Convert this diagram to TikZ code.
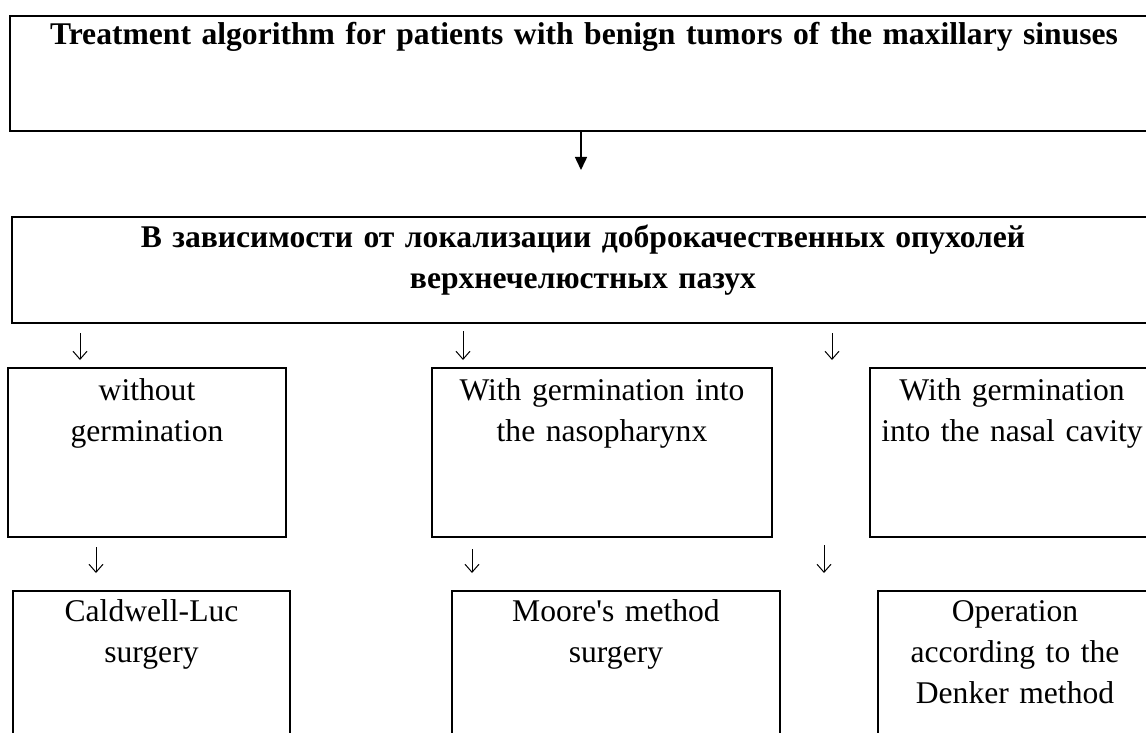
\documentclass[tikz,border=0pt]{standalone}
\usepackage{fontspec}
\setmainfont{Liberation Serif}
\usepackage{tikz}
\usetikzlibrary{
  arrows.meta,
  positioning
}
\newcommand{\algFont}{\fontsize{15.8}{20.7}\selectfont}
\tikzset{
  algBox/.style={
    rectangle,
    draw=black,
    line width=1pt,
    anchor=north west,
    inner sep=0pt,
    outer sep=0pt,
    align=center,
    font=\algFont
  },
  algHead/.style={
    algBox,
    font=\algFont\bfseries
  },
  algArrow/.style={
    -{Triangle[length=6.5pt,width=6pt]},
    line width=0.75pt,
    draw=black
  },
  glyphArrow/.style={
    -{Straight Barb[length=4pt,width=7pt]},
    line width=0.5pt,
    draw=black
  }
}

\begin{document}
\begin{tikzpicture}[x=0.5pt,y=-0.5pt]
  \useasboundingbox (0,0) rectangle (1146,733);

  \node[algHead, text width=574pt, text height=14.5pt, text depth=43pt]
    (title) at (10,16)
    {Treatment algorithm for patients with benign tumors of the maxillary sinuses};

  \node[algHead, text width=571pt, text height=15pt, text depth=38pt, line width=0.8pt]
    (loc) at (12,217)
    {В зависимости от локализации доброкачественных опухолей\\верхнечелюстных пазух};

  % first row
  \node[algBox, text width=139pt, text height=16pt, text depth=68.5pt]
    (without) at (8,368) {without\\germination};
  \node[algBox, text width=170pt, text height=16pt, text depth=68.5pt]
    (naso) at (432,368) {With germination into\\the nasopharynx};
  \node[algBox, text width=142pt, text height=16pt, text depth=68.5pt]
    (nasal) at (870,368) {With germination\\into the nasal cavity};

  % second row
  \node[algBox, text width=138.5pt, text height=15pt, text depth=75pt]
    (caldwell) at (13,591) {Caldwell-Luc\\surgery};
  \node[algBox, text width=164pt, text height=15pt, text depth=75pt]
    (moore) at (452,591) {Moore\textquotesingle s method\\surgery};
  \node[algBox, text width=137pt, text height=15pt, text depth=75pt]
    (denker) at (878,591) {Operation\\according to the\\Denker method};

  \coordinate (mainDrop) at (581,0);
  \coordinate (dropA) at (80,0);
  \coordinate (dropB) at (463,0);
  \coordinate (dropC) at (832,0);
  \coordinate (dropD) at (96,0);
  \coordinate (dropE) at (472,0);
  \coordinate (dropF) at (824,0);

  \draw[algArrow, shorten >=23.5pt] (mainDrop |- title.south) -- (mainDrop |- loc.north);

  \draw[glyphArrow, shorten <=5pt, shorten >=4pt] (dropA |- loc.south) -- (dropA |- without.north);
  \draw[glyphArrow, shorten <=4pt, shorten >=4pt] (dropB |- loc.south) -- (dropB |- naso.north);
  \draw[glyphArrow, shorten <=5pt, shorten >=4pt] (dropC |- loc.south) -- (dropC |- nasal.north);

  \draw[glyphArrow, shorten <=5pt, shorten >=9pt] (dropD |- without.south) -- (dropD |- caldwell.north);
  \draw[glyphArrow, shorten <=6pt, shorten >=9pt] (dropE |- naso.south) -- (dropE |- moore.north);
  \draw[glyphArrow, shorten <=4pt, shorten >=9pt] (dropF |- nasal.south) -- (dropF |- denker.north);
\end{tikzpicture}
\end{document}
